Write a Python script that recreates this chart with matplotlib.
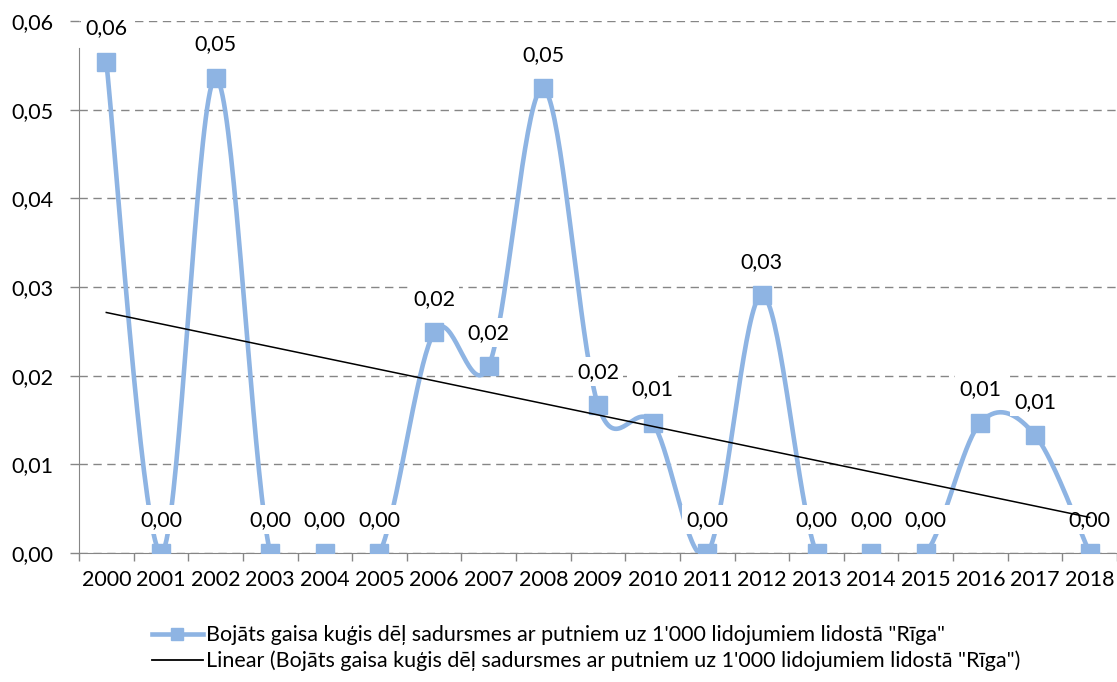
import numpy as np
import matplotlib
matplotlib.use("Agg")
import matplotlib.pyplot as plt
from matplotlib.ticker import FuncFormatter

years = [str(y) for y in range(2000, 2019)]
values = [0.0554, 0.0, 0.0536, 0.0, 0.0, 0.0, 0.0249, 0.0211, 0.0524, 0.0167,
          0.0147, 0.0, 0.0291, 0.0, 0.0, 0.0, 0.0147, 0.0133, 0.0]
series_name = "Bojāts gaisa kuģis dēļ sadursmes ar putniem uz 1'000 lidojumiem lidostā \"Rīga\""

blue = "#8EB4E3"
grey = "#868686"

plt.rcParams["font.family"] = ["Lato", "DejaVu Sans"]
plt.rcParams["font.size"] = 15.5


def smooth(xs, ys, n=40):
    # Catmull-Rom style bezier segments, like a spreadsheet "smoothed line"
    p = np.column_stack([xs, ys]).astype(float)
    pts = [p[0]]
    t = np.linspace(0, 1, n)[1:, None]
    for i in range(len(p) - 1):
        p0 = p[i - 1] if i > 0 else p[i]
        p3 = p[i + 2] if i + 2 < len(p) else p[i + 1]
        b0, b3 = p[i], p[i + 1]
        b1 = b0 + (b3 - p0) / 6
        b2 = b3 - (p3 - b0) / 6
        seg = ((1 - t) ** 3) * b0 + 3 * ((1 - t) ** 2) * t * b1 \
            + 3 * (1 - t) * t ** 2 * b2 + t ** 3 * b3
        pts.extend(seg)
    pts = np.array(pts)
    return pts[:, 0], pts[:, 1]


x = np.arange(len(years))
y = np.array(values)

fig = plt.figure(figsize=(11.17, 6.82), dpi=100)
ax = fig.add_axes([0.0707, 0.1891, 0.9293, 0.7801])

sx, sy = smooth(x, y)
ax.plot(sx, sy, color=blue, lw=3.3, zorder=3)
ax.plot(x, y, ls="none", marker="s", ms=13, color=blue, zorder=3)

for xi, yi in zip(x, y):
    ax.annotate(f"{yi:.2f}".replace(".", ","), (xi, yi), xytext=(0, 24),
                textcoords="offset points", ha="center", va="center",
                bbox=dict(boxstyle="square,pad=0.2", fc="white", ec="none"),
                zorder=4)

k, b = np.polyfit(x, y, 1)
ax.plot(x[[0, -1]], k * x[[0, -1]] + b, color="black", lw=1.1, zorder=5)

ax.set_xlim(-0.5, len(years) - 0.5)
ax.set_ylim(0, 0.06)
ax.set_yticks(np.arange(0, 0.061, 0.01))
ax.yaxis.set_major_formatter(FuncFormatter(lambda v, _: f"{v:.2f}".replace(".", ",")))
ax.set_xticks(x)
ax.set_xticklabels(years)
ax.tick_params(axis="x", length=0, pad=12)
ax.tick_params(axis="y", length=6.5, color=grey, width=1, pad=12)

# tick marks between categories, hanging below the axis
edges = np.arange(len(years) + 1) - 0.5
ax.plot(edges, np.zeros_like(edges), ls="none", marker=3, ms=6, mew=1,
        color=grey, clip_on=False, zorder=2)

ax.yaxis.grid(True, color=grey, ls=(0, (6, 4)), lw=1)
for side in ("top", "right"):
    ax.spines[side].set_visible(False)
ax.spines["left"].set_color(grey)
ax.spines["bottom"].set_color(grey)
ax.spines["left"].set_bounds(0, 0.057)

handles = [
    plt.Line2D([], [], color=blue, lw=3.3, marker="s", ms=9),
    plt.Line2D([], [], color="black", lw=1.3),
]
labels = [series_name, f"Linear ({series_name})"]
fig.legend(handles, labels, loc="upper left", bbox_to_anchor=(0.128, 0.096),
           frameon=False, handlelength=2.4, handletextpad=0.15,
           labelspacing=0.25, borderaxespad=0)

fig.savefig("out.png", dpi=100)
